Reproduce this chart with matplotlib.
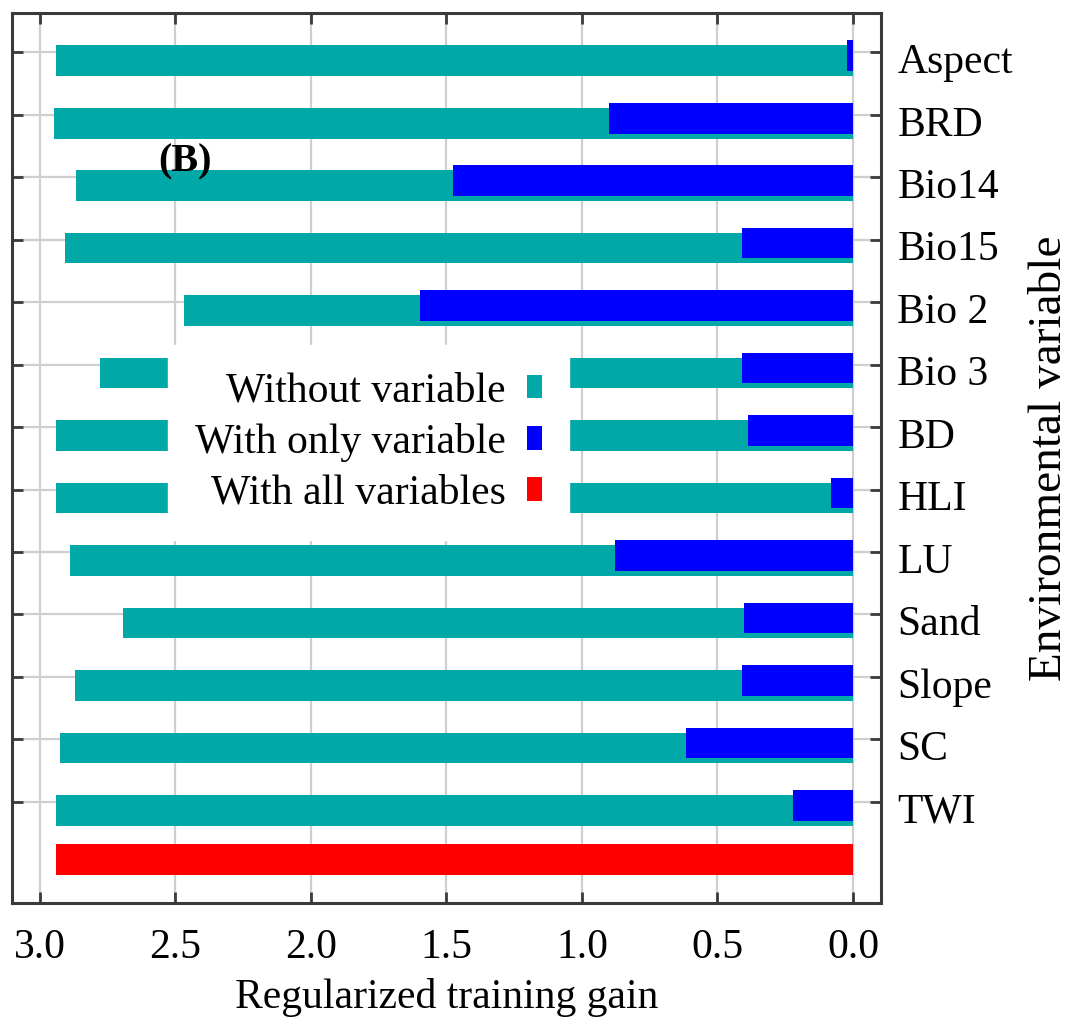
import matplotlib
matplotlib.use("Agg")
import matplotlib.pyplot as plt
import matplotlib.transforms as mtransforms
from matplotlib.patches import Patch
import numpy as np

variables = ['Aspect', 'BRD', 'Bio14', 'Bio15', 'Bio 2', 'Bio 3', 'BD', 'HLI',
             'LU', 'Sand', 'Slope', 'SC', 'TWI']
without_variable = [2.940, 2.949, 2.867, 2.908, 2.468, 2.780, 2.940, 2.940,
                    2.888, 2.695, 2.869, 2.925, 2.941]
with_only_variable = [0.021, 0.902, 1.474, 0.410, 1.596, 0.410, 0.386, 0.081,
                      0.877, 0.402, 0.410, 0.616, 0.220]
with_all_variables = 2.941
x_ticks = [3.0, 2.5, 2.0, 1.5, 1.0, 0.5, 0.0]
x_ticklabels = ['3.0', '2.5', '2.0', '1.5', '1.0', '0.5', '0.0']
legend_labels = ['Without variable', 'With only variable', 'With all variables']

TEAL = '#00a8a8'
BLUE = '#0000ff'
RED = '#ff0000'
SPINE = '#3a3a3a'
GRID = '#cfcfcf'

plt.rcParams['font.family'] = ['Liberation Serif', 'DejaVu Serif']

fig = plt.figure(figsize=(10.75, 10.25), dpi=100)
ax = fig.add_axes([0.01088, 0.11902, 0.8091, 0.8686])

pos = np.arange(len(variables))
bar_h = 0.49
ax.barh(pos + 0.136, without_variable, height=bar_h, color=TEAL, zorder=2,
        linewidth=0)
ax.barh(pos + 0.056, with_only_variable, height=bar_h, color=BLUE, zorder=3,
        linewidth=0)
ax.barh([12.92], [with_all_variables], height=bar_h, color=RED, zorder=2,
        linewidth=0)

ax.set_xlim(3.104, -0.105)
ax.set_ylim(13.62, -0.634)
ax.set_xticks(x_ticks)
ax.set_xticklabels(x_ticklabels)
ax.set_yticks(pos)
ax.set_yticklabels(variables)

ax.set_axisbelow(True)
ax.grid(True, color=GRID, linewidth=1.6, zorder=0)

for s in ax.spines.values():
    s.set_color(SPINE)
    s.set_linewidth(2.2)

ax.tick_params(axis='x', which='both', direction='in', top=True, bottom=True,
               length=8, width=2, color=SPINE, labelsize=30, pad=18)
ax.tick_params(axis='y', which='both', direction='in', left=True, right=True,
               labelleft=False, labelright=True, length=8, width=2,
               color=SPINE, labelsize=30, pad=11.5)

# shift right-side labels slightly down (they sit between tick and bar centre)
offset = mtransforms.ScaledTranslation(0, -6 / 100, fig.dpi_scale_trans)
for lab in ax.get_yticklabels():
    lab.set_transform(lab.get_transform() + offset)

ax.set_xlabel('Regularized training gain', fontsize=30, labelpad=8)
ax.yaxis.set_label_position('right')
ax.set_ylabel('Environmental variable', fontsize=34, rotation=90, labelpad=11)

ax.text(2.465, 1.76, '(B)', fontsize=29, fontweight='bold', ha='center',
        va='center', zorder=5)

handles = [Patch(facecolor=TEAL, edgecolor='none'),
           Patch(facecolor=BLUE, edgecolor='none'),
           Patch(facecolor=RED, edgecolor='none')]
leg = ax.legend(handles, legend_labels, loc='center',
                bbox_to_anchor=(0.3428, 0.5685),
                bbox_transform=fig.transFigure, markerfirst=False,
                fontsize=30, frameon=True, fancybox=False, framealpha=1,
                facecolor='white', edgecolor='white', handlelength=0.36,
                handleheight=0.48, handletextpad=0.5, labelspacing=0.3,
                borderpad=0.65, borderaxespad=0)
leg.set_zorder(10)
for t in leg.get_texts():
    t.set_ha('right')

fig.savefig('out.png', dpi=100, facecolor='white')
